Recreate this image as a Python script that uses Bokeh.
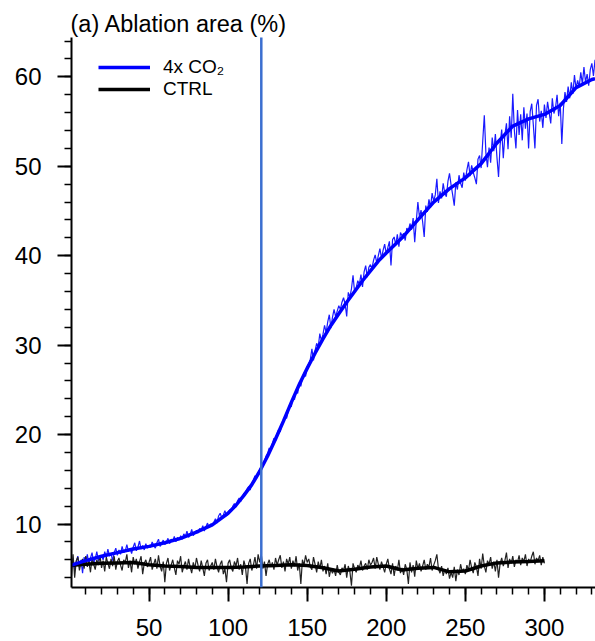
from bokeh.plotting import figure
from bokeh.models import (Range1d, FixedTicker, Legend, LegendItem, Arrow)
from bokeh.embed import file_html
from bokeh.resources import INLINE

# ---------------- data ----------------
title_text = "(a) Ablation area (%)"
series_names = ["4x CO\u2082", "CTRL"]

blue_raw = [
    5.2, 6.1, 4.9, 5.8, 6.4, 5.3, 6.0, 4.5, 6.3, 5.7,
    6.6, 5.5, 6.2, 6.8, 5.6, 6.1, 6.9, 5.9, 6.3, 6.5,
    6.0, 6.9, 6.3, 7.2, 6.4, 6.7, 5.9, 6.8, 7.3, 6.5,
    7.1, 6.6, 7.5, 6.8, 7.0, 7.7, 6.9, 7.3, 6.7, 7.4,
    7.9, 7.0, 7.4, 8.1, 7.2, 7.6, 7.1, 7.8, 7.3, 7.6,
    7.4, 8.0, 7.6, 7.3, 7.9, 8.3, 7.5, 7.8, 8.2, 7.7,
    8.0, 8.4, 7.8, 8.3, 8.1, 8.6, 8.0, 8.5, 8.2, 8.7,
    8.3, 8.9, 8.6, 9.2, 8.5, 8.8, 9.4, 8.7, 9.0, 9.3,
    9.0, 9.5, 9.3, 9.8, 9.2, 9.7, 10.1, 9.6, 10.0, 9.8,
    10.2, 10.6, 10.1, 10.9, 11.2, 10.7, 11.0, 11.5, 10.9, 11.3,
    11.6, 11.4, 12.0, 12.3, 11.9, 12.6, 12.9, 12.5, 13.1, 13.4,
    13.5, 13.9, 14.2, 13.8, 14.6, 14.9, 15.4, 15.1, 15.7, 16.1,
    16.4, 16.8, 17.0, 17.6, 17.9, 18.5, 18.2, 19.0, 19.6, 19.3,
    20.1, 20.6, 20.3, 21.2, 21.5, 22.0, 21.8, 22.6, 23.4, 23.1,
    24.2, 23.9, 25.0, 24.6, 25.8, 25.4, 26.3, 26.9, 26.5, 27.6,
    27.9, 28.4, 29.6, 28.3, 29.4, 30.2, 29.8, 31.3, 30.5, 31.2,
    32.2, 31.4, 32.6, 33.4, 31.9, 33.1, 34.0, 33.2, 33.8, 34.4,
    34.0, 34.8, 35.3, 34.6, 33.2, 35.9, 35.4, 36.3, 37.8, 35.9,
    36.4, 37.2, 36.8, 37.9, 36.5, 38.2, 38.9, 37.6, 38.7, 39.0,
    38.6, 39.5, 40.1, 39.2, 40.0, 40.8, 39.7, 40.6, 41.3, 40.2,
    40.9, 41.6, 38.9, 41.8, 42.1, 41.2, 42.4, 41.0, 42.6, 42.2,
    42.5, 41.7, 43.1, 42.8, 43.6, 42.9, 44.2, 41.5, 43.9, 46.0,
    44.3, 45.1, 43.8, 42.1, 45.6, 44.9, 46.3, 45.4, 47.0, 46.1,
    46.8, 48.6, 45.9, 47.2, 46.4, 48.1, 47.0, 46.6, 48.3, 49.2,
    47.9, 46.8, 45.6, 48.2, 47.4, 49.0, 48.1, 47.6, 49.3, 48.4,
    49.6, 50.5, 48.9, 50.1, 49.3, 48.7, 48.0, 50.8, 51.2, 49.8,
    52.8, 55.7, 51.5, 49.9, 52.1, 50.4, 53.2, 51.7, 53.6, 51.0,
    48.8, 52.4, 54.1, 50.9, 53.5, 54.8, 51.9, 55.6, 53.2, 58.1,
    54.0, 52.0, 56.3, 53.5, 55.8, 52.9, 56.6, 54.2, 55.9, 52.0,
    56.1, 57.0, 54.6, 52.0, 56.8, 57.5, 55.0, 56.2, 54.3, 56.9,
    55.4, 57.2, 56.0, 54.8, 57.6, 55.9, 56.5, 58.0, 55.6, 57.1,
    52.5, 56.4, 58.3, 57.2, 58.9, 57.6, 59.4, 58.1, 60.2, 58.7,
    59.6, 58.9, 60.5, 59.2, 61.1, 59.4, 60.3, 59.0, 60.8, 61.5,
    60.1, 61.9,
]

ctrl_raw = [
    4.2, 6.6, 4.0, 5.9, 6.3, 4.8, 5.7, 6.1, 5.0, 6.4,
    5.2, 5.8, 4.6, 6.2, 5.5, 4.9, 6.0, 5.4, 6.5, 5.1,
    5.9, 4.7, 6.3, 5.6, 5.0, 6.1, 5.3, 6.4, 4.9, 5.8,
    6.2, 5.4, 4.8, 6.0, 5.7, 6.6, 5.1, 5.9, 4.6, 6.3,
    5.5, 6.1, 5.0, 5.8, 6.4, 4.4, 5.6, 6.0, 5.2, 5.7,
    6.3, 4.9, 5.5, 6.1, 5.0, 6.5, 5.3, 4.7, 5.8, 3.5,
    5.6, 6.2, 4.8, 5.4, 6.0, 5.1, 4.3, 5.9, 5.5, 6.4,
    4.6, 5.3, 5.8, 4.9, 6.1, 5.2, 4.5, 5.7, 5.0, 6.2,
    5.4, 4.7, 5.9, 5.1, 4.2, 5.6, 6.0, 4.8, 5.3, 5.7,
    4.9, 6.1, 5.2, 4.6, 5.5, 5.9, 4.4, 5.0, 3.5, 5.6,
    6.0, 5.1, 4.7, 5.8, 5.3, 6.2, 4.9, 5.5, 4.3, 5.9,
    5.2, 3.3, 5.6, 6.1, 4.8, 5.4, 6.3, 5.0, 6.6, 5.7,
    6.6, 5.0, 5.8, 4.2, 5.5, 6.0, 5.2, 5.7, 4.9, 6.2,
    5.4, 6.0, 6.5, 5.1, 5.8, 4.7, 6.1, 5.5, 6.3, 5.0,
    5.9, 5.3, 6.4, 4.8, 5.6, 3.3, 6.0, 5.4, 6.5, 5.7,
    6.1, 5.2, 4.9, 6.3, 5.5, 4.6, 5.8, 5.0, 6.0, 4.7,
    5.3, 4.4, 5.6, 4.1, 5.0, 4.5, 4.9, 4.2, 5.4, 4.6,
    4.3, 5.1, 4.8, 5.5, 4.0, 5.3, 4.7, 3.1, 5.6, 5.0,
    4.6, 5.4, 5.1, 5.9, 4.8, 5.3, 5.6, 4.9, 6.0, 5.4,
    5.7, 6.2, 5.0, 6.3, 5.5, 4.9, 5.8, 5.2, 4.6, 5.5,
    6.1, 5.0, 4.4, 5.6, 4.2, 5.3, 4.8, 6.0, 4.5, 5.1,
    4.3, 5.5, 4.9, 3.3, 5.7, 4.6, 5.4, 4.1, 5.9, 5.0,
    5.6, 4.7, 5.3, 6.0, 4.9, 5.5, 5.2, 6.2, 4.8, 5.4,
    5.9, 6.6, 5.0, 4.5, 5.3, 4.2, 4.9, 4.4, 5.1, 3.9,
    4.6, 4.0, 5.2, 3.6, 4.9, 4.3, 5.5, 4.7, 5.0, 4.4,
    5.4, 4.8, 6.0, 5.1, 4.5, 5.7, 5.2, 4.2, 6.1, 5.0,
    6.7, 5.3, 4.6, 5.9, 5.5, 6.3, 5.0, 5.8, 4.7, 6.0,
    4.0, 5.6, 6.2, 5.3, 5.9, 6.8, 5.1, 6.1, 5.6, 6.4,
    5.2, 6.0, 5.7, 6.5, 5.4, 6.2, 5.8, 6.6, 5.3, 6.1,
    5.7, 6.4, 6.9, 5.5, 6.2, 5.9, 6.5, 5.4, 6.3, 5.6,
]

blue_smooth_years = [1, 10, 20, 30, 40, 50, 60, 70, 80, 90, 100, 105, 110, 115, 120,
                     125, 130, 135, 140, 145, 150, 155, 160, 165, 170, 175, 180, 185,
                     190, 195, 200, 210, 220, 230, 240, 250, 260, 270, 280, 290, 300,
                     310, 320, 330, 332]
blue_smooth = [5.4, 5.9, 6.4, 6.8, 7.2, 7.5, 7.9, 8.4, 9.1, 9.9, 11.2, 12.1, 13.2, 14.4,
               15.9, 17.6, 19.5, 21.5, 23.6, 25.6, 27.4, 29.1, 30.7, 32.2, 33.5, 34.8,
               36.0, 37.2, 38.3, 39.4, 40.3, 42.0, 44.0, 46.0, 47.5, 48.7, 50.3, 52.6,
               54.5, 55.3, 55.8, 56.8, 58.8, 59.7, 59.8]

ctrl_smooth_years = [1, 10, 20, 30, 40, 50, 60, 70, 80, 90, 100, 110, 120, 130, 140, 150,
                     160, 170, 180, 190, 200, 210, 220, 230, 240, 250, 260, 270, 280, 290, 300]
ctrl_smooth = [5.4, 5.5, 5.6, 5.65, 5.7, 5.45, 5.3, 5.25, 5.15, 5.15, 5.15, 5.2, 5.3, 5.35,
               5.45, 5.35, 5.1, 4.75, 4.95, 5.2, 5.3, 4.85, 5.05, 5.15, 4.65, 4.75, 5.3,
               5.65, 5.75, 5.8, 5.9]

marker_year = 121

x_major = [50, 100, 150, 200, 250, 300]
x_minor = list(range(10, 340, 10))
y_major = [10, 20, 30, 40, 50, 60]
y_minor = list(range(4, 66, 2))

blue_years = list(range(1, len(blue_raw) + 1))
ctrl_years = list(range(1, len(ctrl_raw) + 1))

# ---------------- figure ----------------
FONT = "Liberation Sans"
x0, x1 = 1.0, 332.3
y0, y1 = 2.9, 64.4

p = figure(width=595, height=641, output_backend="svg", toolbar_location=None,
           x_range=Range1d(x0, x1), y_range=Range1d(y0, y1),
           min_border_left=71, min_border_right=0, min_border_top=37, min_border_bottom=54)
p.outline_line_color = None
p.xgrid.visible = False
p.ygrid.visible = False
p.background_fill_color = "white"
p.border_fill_color = "white"

p.title.text = title_text
p.title.text_font = FONT
p.title.text_font_size = "23.5px"
p.title.text_font_style = "normal"
p.title.text_color = "black"
p.title.align = "left"
p.title.offset = -1
p.title.standoff = 2

for ax, ticks, minor in ((p.xaxis[0], x_major, x_minor), (p.yaxis[0], y_major, y_minor)):
    ax.ticker = FixedTicker(ticks=ticks, minor_ticks=minor)
    ax.axis_line_width = 2
    ax.axis_line_color = "black"
    ax.major_tick_in = 0
    ax.major_tick_out = 14
    ax.minor_tick_in = 0
    ax.minor_tick_out = 7
    ax.major_tick_line_width = 2
    ax.minor_tick_line_width = 1.5
    ax.major_tick_line_color = "black"
    ax.minor_tick_line_color = "black"
    ax.major_label_text_font = FONT
    ax.major_label_text_font_size = "24px"
    ax.major_label_text_color = "black"
p.xaxis.major_label_standoff = 17
p.xaxis.major_label_text_line_height = 1.0
p.yaxis.major_label_standoff = 16

# lines
p.line(blue_years, blue_raw, line_color="#1a1aff", line_width=1.2)
p.line(ctrl_years, ctrl_raw, line_color="#222222", line_width=1.2)
r_ctrl = p.line(ctrl_smooth_years, ctrl_smooth, line_color="black", line_width=3.5)
r_blue = p.line(blue_smooth_years, blue_smooth, line_color="#0000ff", line_width=3.5)

# vertical marker line (extends above the frame like the reference)
p.add_layout(Arrow(end=None, x_start=marker_year, x_end=marker_year, y_start=y0, y_end=68.0,
                   line_color="#3b6fd0", line_width=2.5))

legend = Legend(items=[LegendItem(label=series_names[0], renderers=[r_blue]),
                       LegendItem(label=series_names[1], renderers=[r_ctrl])],
                location=(27, 487), padding=0, margin=0, spacing=0,
                glyph_width=52, glyph_height=22, label_height=22, label_standoff=13,
                label_text_font=FONT, label_text_font_size="19px", label_text_color="black",
                border_line_color=None, background_fill_alpha=0)
p.add_layout(legend)

open("out.html", "w").write(file_html(p, INLINE))
